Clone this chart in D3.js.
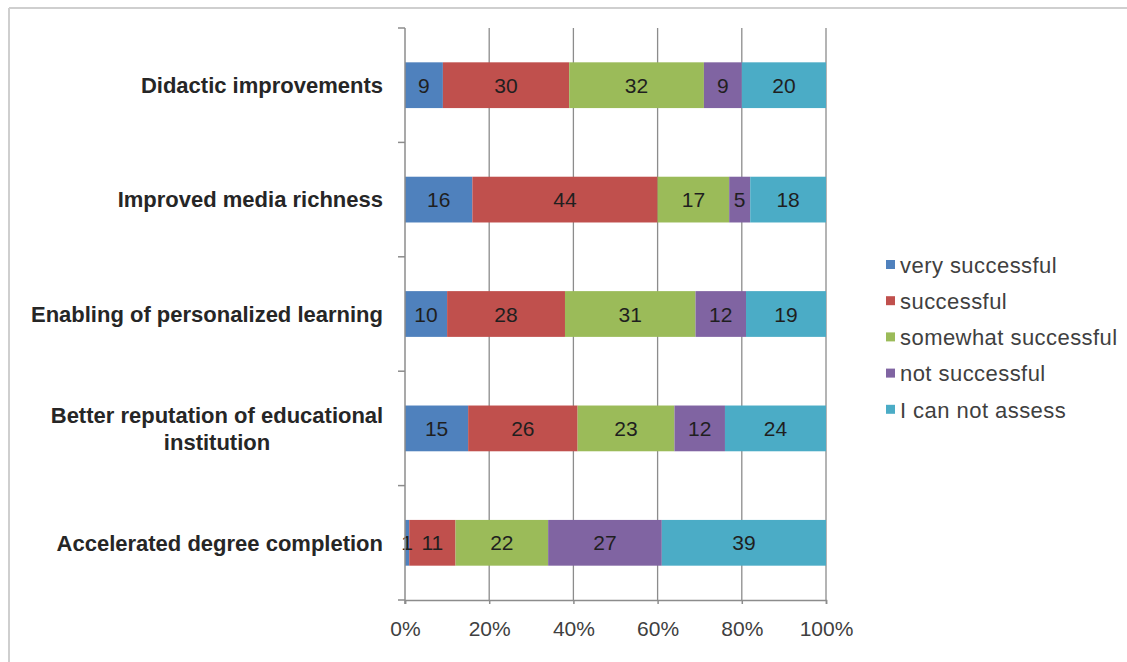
<!DOCTYPE html>
<html>
<head>
<meta charset="utf-8">
<script src="https://cdn.jsdelivr.net/npm/d3@7"></script>
<style>
  body { margin: 0; background: #fff; }
  svg { display: block; font-family: "Liberation Sans", Arial, sans-serif; }
</style>
</head>
<body>
<svg id="chart" width="1127" height="662"></svg>
<script>
const categories = [
  "Didactic improvements",
  "Improved media richness",
  "Enabling of personalized learning",
  "Better reputation of educational institution",
  "Accelerated degree completion"
];
const seriesNames = ["very successful", "successful", "somewhat successful", "not successful", "I can not assess"];
const verySuccessful = [9, 16, 10, 15, 1];
const successful = [30, 44, 28, 26, 11];
const somewhatSuccessful = [32, 17, 31, 23, 22];
const notSuccessful = [9, 5, 12, 12, 27];
const cannotAssess = [20, 18, 19, 24, 39];
const xTicks = [0, 20, 40, 60, 80, 100];
const colors = ["#4F81BD", "#C0504D", "#9BBB59", "#8064A2", "#4BACC6"];

const seriesValues = [verySuccessful, successful, somewhatSuccessful, notSuccessful, cannotAssess];
const rows = categories.map((c, i) => {
  const o = { cat: c };
  seriesNames.forEach((s, j) => o[s] = seriesValues[j][i]);
  return o;
});

(function draw() {
const svg = d3.select("#chart");

// outer frame
svg.append("line").attr("x1", 9).attr("x2", 1127).attr("y1", 8).attr("y2", 8)
  .attr("stroke", "#cfcfcf").attr("stroke-width", 2);
svg.append("line").attr("x1", 9).attr("x2", 9).attr("y1", 8).attr("y2", 662)
  .attr("stroke", "#cfcfcf").attr("stroke-width", 2);

const pLeft = 405, pRight = 826, pTop = 28, pBottom = 600;
const x = d3.scaleLinear().domain([0, 100]).range([pLeft, pRight]);
const y = d3.scaleBand().domain(categories).range([pTop, pBottom]).paddingInner(0.6).paddingOuter(0.3);

// gridlines
svg.append("g").selectAll("line").data(xTicks.slice(1)).join("line")
  .attr("x1", d => x(d)).attr("x2", d => x(d))
  .attr("y1", pTop).attr("y2", pBottom)
  .attr("stroke", "#8c8c8c").attr("stroke-width", 1.3);

// stacked bars
const stack = d3.stack().keys(seriesNames)(rows);
const layers = svg.append("g").selectAll("g").data(stack).join("g")
  .attr("fill", (d, i) => colors[i]);
layers.selectAll("rect").data(d => d).join("rect")
  .attr("x", d => x(d[0]))
  .attr("width", d => x(d[1]) - x(d[0]))
  .attr("y", d => y(d.data.cat))
  .attr("height", y.bandwidth());

// value labels
const labelG = svg.append("g");
stack.forEach(layer => {
  labelG.append("g").selectAll("text").data(layer).join("text")
    .attr("x", d => (x(d[0]) + x(d[1])) / 2)
    .attr("y", d => y(d.data.cat) + y.bandwidth() / 2)
    .attr("dy", "0.36em")
    .attr("text-anchor", "middle")
    .attr("fill", "#1f1f1f")
    .attr("font-size", 21)
    .text(d => d[1] - d[0]);
});

// y axis line and ticks
const boundaries = d3.range(categories.length + 1).map(i => pTop + i * (pBottom - pTop) / categories.length);
svg.append("line").attr("x1", pLeft).attr("x2", pLeft).attr("y1", pTop).attr("y2", pBottom + 4)
  .attr("stroke", "#8c8c8c").attr("stroke-width", 1.5);
svg.append("g").selectAll("line").data(boundaries).join("line")
  .attr("x1", pLeft - 7).attr("x2", pLeft).attr("y1", d => d).attr("y2", d => d)
  .attr("stroke", "#8c8c8c").attr("stroke-width", 1.5);

// x axis
const xAxis = svg.append("g").attr("transform", `translate(0,${pBottom})`)
  .call(d3.axisBottom(x).tickValues(xTicks).tickFormat(d => d + "%").tickSize(4).tickPadding(17));
xAxis.select(".domain").attr("stroke", "#8c8c8c").attr("stroke-width", 1.5);
xAxis.selectAll(".tick line").attr("stroke", "#8c8c8c").attr("stroke-width", 1.5);
xAxis.selectAll(".tick text").attr("font-size", 21).attr("fill", "#404040")
  .attr("font-family", "Liberation Sans, Arial, sans-serif");

// category labels
const catLabels = svg.append("g").selectAll("text").data(categories).join("text")
  .attr("font-size", 22).attr("font-weight", "bold").attr("fill", "#262626");
catLabels.each(function(d) {
  const t = d3.select(this);
  const cy = y(d) + y.bandwidth() / 2;
  if (d === "Better reputation of educational institution") {
    t.attr("text-anchor", "middle");
    t.append("tspan").attr("x", 217).attr("y", cy - 13.5).attr("dy", "0.35em").text("Better reputation of educational");
    t.append("tspan").attr("x", 217).attr("y", cy + 13.5).attr("dy", "0.35em").text("institution");
  } else {
    t.attr("text-anchor", "end").attr("x", 383).attr("y", cy).attr("dy", "0.35em").text(d);
  }
});

// legend
const legend = svg.append("g").attr("transform", "translate(886,265)");
const items = legend.selectAll("g").data(seriesNames).join("g")
  .attr("transform", (d, i) => `translate(0,${i * 36.2})`);
items.append("rect").attr("x", 0).attr("y", -5).attr("width", 9).attr("height", 9)
  .attr("fill", (d, i) => colors[i]);
items.append("text").attr("x", 14).attr("y", 0).attr("dy", "0.35em")
  .attr("font-size", 22).attr("letter-spacing", 0.45).attr("fill", "#404040").text(d => d);
})();
</script>
</body>
</html>
